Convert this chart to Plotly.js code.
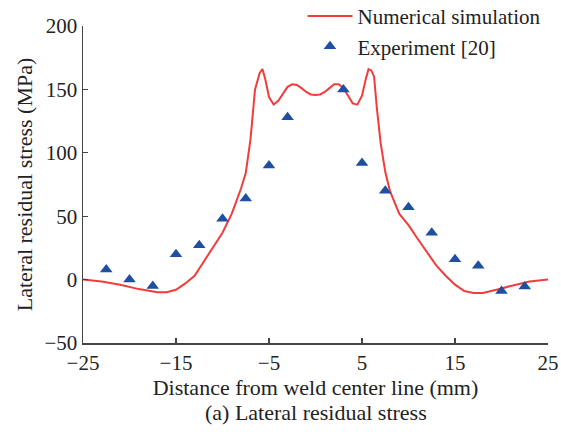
<!DOCTYPE html>
<html>
<head>
<meta charset="utf-8">
<script src="https://cdn.plot.ly/plotly-3.0.1.min.js"></script>
<style>html,body{margin:0;padding:0;background:#fff;}</style>
</head>
<body>
<div id="chart" style="width:561px;height:432px;"></div>
<script>
// Numerical simulation curve
const simX = [-25,-23,-21,-19,-17,-16,-15,-14,-13,-12,-11,-10,-9,-8,-7.5,-7,-6.5,-6,-5.7,-5.4,-5,-4.5,-4,-3.5,-3,-2.5,-2,-1.5,-1,-0.5,0,0.5,1,1.5,2,2.5,3,3.5,4,4.5,5,5.4,5.7,6,6.3,6.6,7,7.5,8,9,10,11,12,13,14,15,16,17,18,19,20,21,22,23,24,25];
const simY = [0,-1.5,-4,-7.5,-10,-10,-8,-3,3,14,25,37,52,72,84,110,150,163,166,158,144,138,141,147,152,154,153.5,151,148,146,145.5,146,148,151,154,154,151,145,139,138,145,158,166,165,160,135,108,85,70,52,43,32,21,11,3,-4,-9,-10.5,-10.5,-9,-7,-5,-3,-1.5,-0.8,0];
// Experiment [20]
const expX = [-22.5,-20,-17.5,-15,-12.5,-10,-7.5,-5,-3,3,5,7.5,10,12.5,15,17.5,20,22.5];
const expY = [8,0,-5,20,27,48,64,90,128,150,92,70,57,37,16,11,-9,-5.5];
// Tick labels
const xTicks = [-25,-15,-5,5,15,25];
const yTicks = [-50,0,50,100,150,200];

const font = "'Liberation Serif', 'Times New Roman', serif";
const axisColor = '#444';
const txt = '#222';

const traces = [
  {x: simX, y: simY, type: 'scatter', mode: 'lines', name: 'Numerical simulation',
   line: {color: '#f23c3c', width: 2}},
  {x: expX, y: expY, type: 'scatter', mode: 'markers', name: 'Experiment [20]',
   marker: {symbol: 'triangle-up', size: 11, color: '#1f4fa0'}}
];

const layout = {
  width: 561, height: 432,
  margin: {l: 83, r: 13, t: 26, b: 89, autoexpand: false},
  paper_bgcolor: '#fff', plot_bgcolor: '#fff',
  font: {family: font, size: 21, color: txt},
  showlegend: true,
  legend: {x: 0.472, y: 1.095, xanchor: 'left', yanchor: 'top', bgcolor: 'rgba(0,0,0,0)',
           font: {family: font, size: 21, color: txt}, tracegroupgap: 0, itemwidth: 45},
  xaxis: {
    range: [-25, 25], tickvals: xTicks, ticks: 'inside', ticklen: 5, tickwidth: 1.3,
    tickcolor: axisColor, showline: true, linecolor: axisColor, linewidth: 1.5,
    showgrid: false, zeroline: false, tickfont: {family: font, size: 21, color: txt},
    title: {text: 'Distance from weld center line (mm)', font: {family: font, size: 22, color: txt}, standoff: 4}
  },
  yaxis: {
    range: [-50, 200], tickvals: yTicks, ticks: 'inside', ticklen: 5, tickwidth: 1.3,
    tickcolor: axisColor, showline: true, linecolor: axisColor, linewidth: 1.5,
    showgrid: false, zeroline: false, tickfont: {family: font, size: 21, color: txt},
    title: {text: 'Lateral residual stress (MPa)', font: {family: font, size: 22, color: txt}, standoff: 6}
  },
  annotations: [{
    text: '(a) Lateral residual stress', xref: 'paper', yref: 'paper',
    x: 0.5, y: -0.175, xanchor: 'center', yanchor: 'top', showarrow: false,
    font: {family: font, size: 22, color: txt}
  }]
};

Plotly.newPlot('chart', traces, layout, {displayModeBar: false, staticPlot: true});
</script>
</body>
</html>
